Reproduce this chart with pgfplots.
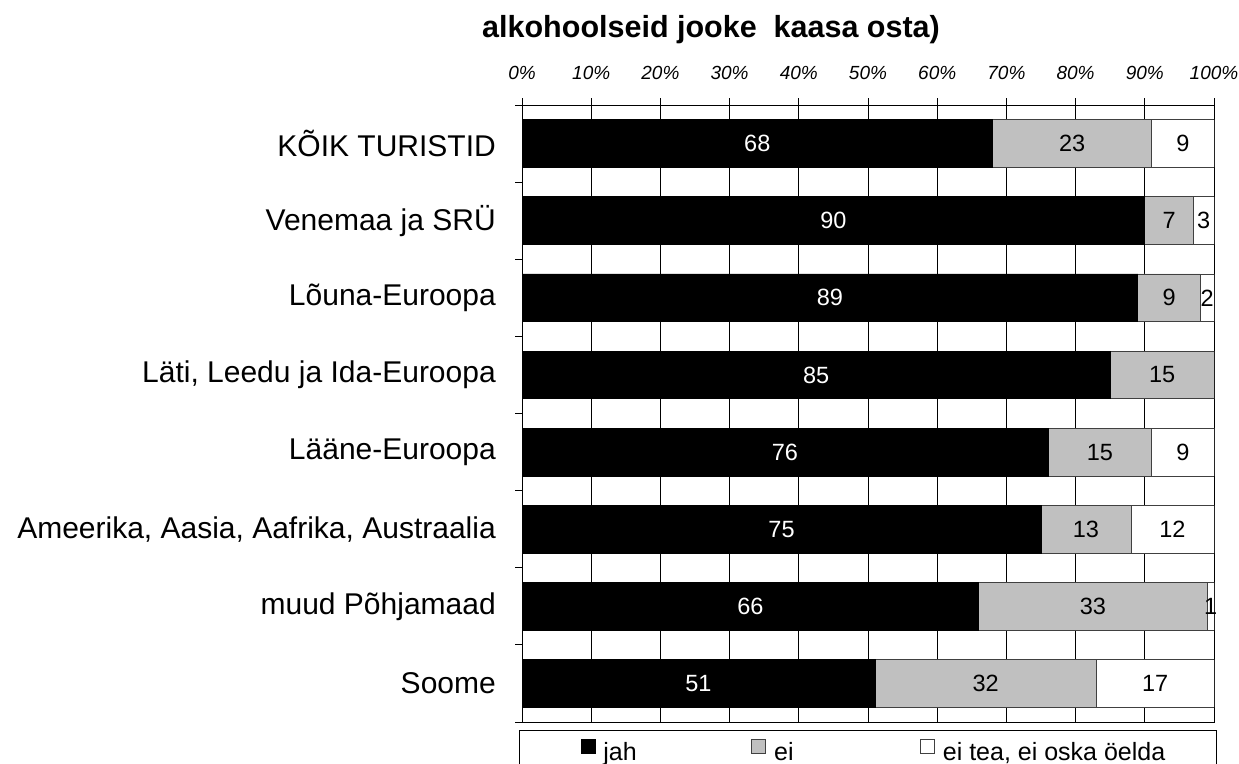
\documentclass[border=0pt]{standalone}
\usepackage{pgfplots}
\pgfplotsset{compat=1.18}
\usepackage{fontspec}
\setmainfont{Liberation Sans}
\definecolor{barGray}{RGB}{192,192,192}
\definecolor{edgeGray}{RGB}{64,64,64}
\pgfplotsset{sq legend/.style={legend image code/.code={\draw[##1, line width=0.8bp] (0bp,-1bp) rectangle (14bp,13bp);}}}
\begin{document}
\begin{tikzpicture}
\useasboundingbox (0,0) rectangle (1239bp,764bp);
\pgfplotsset{base/.style={
  at={(522bp,42bp)}, anchor=south west, scale only axis,
  width=692bp, height=617bp,
  xmin=0, xmax=100, ymin=-0.5, ymax=7.5, y dir=reverse,
}}
\node[anchor=base west, inner sep=0pt, font=\bfseries\fontsize{30.5bp}{34bp}\selectfont] at (482bp,726bp) {alkohoolseid jooke\ \ kaasa osta)};
\begin{axis}[base,
  xbar stacked, bar width=0.62,
  axis line style={line width=1bp, black},
  xtick={0,10,20,30,40,50,60,70,80,90,100},
  xticklabels={0\%,10\%,20\%,30\%,40\%,50\%,60\%,70\%,80\%,90\%,100\%},
  xtick pos=right, xticklabel pos=right,
  tick align=outside,
  major tick length=7bp,
  tick style={line width=1bp, black},
  xticklabel style={font=\fontsize{19bp}{21bp}\selectfont\itshape, yshift=15bp},
  xmajorgrids, grid style={line width=1bp, black},
  ytick={-0.5,0.5,1.5,2.5,3.5,4.5,5.5,6.5,7.5},
  yticklabels={,,,,,,,,},
  ytick pos=left,
  extra y ticks={0,1,2,3,4,5,6,7},
  extra y tick labels={KÕIK TURISTID, Venemaa ja SRÜ, Lõuna-Euroopa, {Läti, Leedu ja Ida-Euroopa}, Lääne-Euroopa, {Ameerika, Aasia, Aafrika, Austraalia}, muud Põhjamaad, Soome},
  extra y tick style={major tick length=0pt, grid=none},
  yticklabel style={font=\fontsize{30bp}{34bp}\selectfont, anchor=east, inner sep=0pt, xshift=-26bp},
  legend columns=3,
  legend style={at={(0,0)}, anchor=north west, xshift=-3bp, yshift=-8bp,
    draw=black, line width=1bp, inner xsep=61bp, inner ysep=8bp,
    font=\fontsize{25bp}{30bp}\selectfont,
    nodes={inner sep=0pt}},
]
\addplot[fill=black, draw=black, line width=0.8bp, sq legend]
  coordinates {(68,0) (90,1) (89,2) (85,3) (76,4) (75,5) (66,6) (51,7)};
\addlegendentry{\makebox[156bp][l]{\hspace{8bp}jah}}
\addplot[fill=barGray, draw=edgeGray, line width=0.8bp, sq legend]
  coordinates {(23,0) (7,1) (9,2) (15,3) (15,4) (13,5) (33,6) (32,7)};
\addlegendentry{\makebox[154bp][l]{\hspace{8bp}ei}}
\addplot[fill=white, draw=edgeGray, line width=0.8bp, sq legend]
  coordinates {(9,0) (3,1) (2,2) (0,3) (9,4) (12,5) (1,6) (17,7)};
\addlegendentry{\makebox[221bp][l]{\hspace{8bp}ei tea, ei oska öelda}}
\end{axis}
\begin{axis}[base, hide axis, clip=false,
  point meta=explicit symbolic,
  nodes near coords,
  every node near coord/.append style={anchor=center, inner sep=0pt, font=\fontsize{23.5bp}{26bp}\selectfont},
]
\addplot[draw=none, nodes near coords, every node near coord/.append style={text=white}]
  coordinates {(34,0)[68] (45,1)[90] (44.5,2)[89] (42.5,3)[85] (38,4)[76] (37.5,5)[75] (33,6)[66] (25.5,7)[51]};
\addplot[draw=none, nodes near coords, every node near coord/.append style={text=black}]
  coordinates {(79.5,0)[23] (93.5,1)[7] (93.5,2)[9] (92.5,3)[15] (83.5,4)[15] (81.5,5)[13] (82.5,6)[33] (67,7)[32]};
\addplot[draw=none, nodes near coords, every node near coord/.append style={text=black}]
  coordinates {(95.5,0)[9] (98.5,1)[3] (99,2)[2] (95.5,4)[9] (94,5)[12] (99.5,6)[1] (91.5,7)[17]};
\end{axis}
\end{tikzpicture}
\end{document}
